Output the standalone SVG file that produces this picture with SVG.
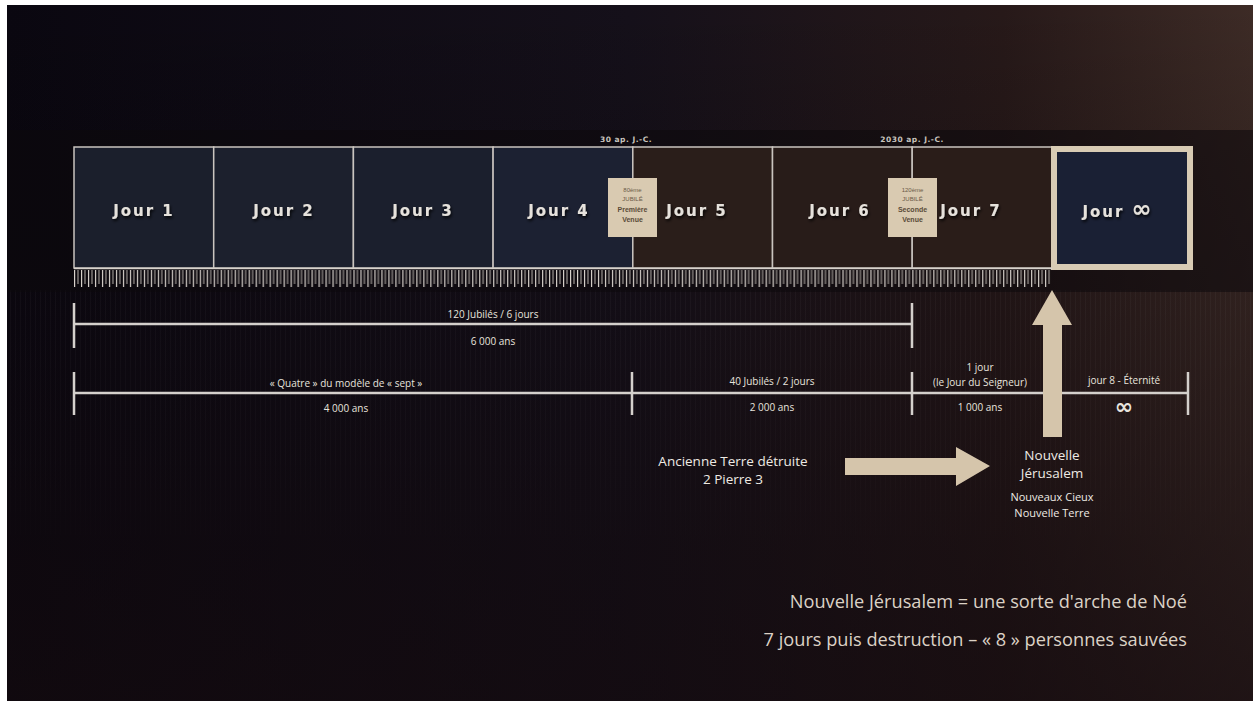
<svg xmlns="http://www.w3.org/2000/svg" width="1253" height="701" viewBox="0 0 1253 701">
<defs>
<linearGradient id="bgH" x1="0" y1="0" x2="1" y2="0">
<stop offset="0" stop-color="#0a0710"/>
<stop offset="0.5" stop-color="#15101a"/>
<stop offset="0.8" stop-color="#271919"/>
<stop offset="1" stop-color="#3d2b26"/>
</linearGradient>
<linearGradient id="bgV" x1="0" y1="0" x2="0" y2="1">
<stop offset="0" stop-color="#000" stop-opacity="0"/>
<stop offset="0.45" stop-color="#0e080c" stop-opacity="0.3"/>
<stop offset="1" stop-color="#130a0e" stop-opacity="0.7"/>
</linearGradient>
<linearGradient id="fadeV" x1="0" y1="0" x2="0" y2="1">
<stop offset="0" stop-color="#fff" stop-opacity="1"/>
<stop offset="0.6" stop-color="#fff" stop-opacity="0.6"/>
<stop offset="1" stop-color="#fff" stop-opacity="0"/>
</linearGradient>
<mask id="fade"><rect x="0" y="290" width="1253" height="280" fill="url(#fadeV)"/></mask>
<pattern id="stripes" x="0" y="0" width="5" height="10" patternUnits="userSpaceOnUse">
<rect x="0" y="0" width="1" height="10" fill="#ffffff" opacity="0.03"/>
</pattern>
<pattern id="ticks" x="74" y="0" width="6.986" height="30" patternUnits="userSpaceOnUse">
<rect x="0" y="0" width="1.2" height="18" fill="#d8d2cc"/>
<rect x="3.49" y="0" width="1" height="14" fill="#b8b2ac"/>
</pattern>
<filter id="sh" x="-20%" y="-50%" width="140%" height="200%">
<feDropShadow dx="1" dy="2" stdDeviation="1.5" flood-color="#000" flood-opacity="0.9"/>
</filter>
<style>
.jour{font-family:"DejaVu Sans",sans-serif;font-weight:bold;font-size:15px;letter-spacing:2px;fill:#e6e2dc;text-anchor:middle}
.lbl{font-family:"Open Sans","Liberation Sans",sans-serif;font-size:10px;fill:#e8e4de;text-anchor:middle}
.big{font-family:"Open Sans","Liberation Sans",sans-serif;font-size:13.5px;fill:#eeeae4;text-anchor:middle}
.mid{font-family:"Open Sans","Liberation Sans",sans-serif;font-size:11px;fill:#eeeae4;text-anchor:middle}
.note{font-family:"Open Sans","Liberation Sans",sans-serif;font-size:18.2px;fill:#dcd2c6;text-anchor:end}
.inf{font-family:"DejaVu Sans",sans-serif;font-size:22px;font-weight:bold;fill:#e8e4de;text-anchor:middle}
.date{font-family:"DejaVu Sans",sans-serif;font-weight:bold;font-size:7.5px;fill:#c8c4be;text-anchor:middle;letter-spacing:0.5px}
.box{font-family:"Liberation Sans",sans-serif;font-size:6px;fill:#6a5a48;text-anchor:middle}
.boxb{font-family:"Liberation Sans",sans-serif;font-weight:bold;font-size:7px;fill:#5a4a38;text-anchor:middle}
.dim{stroke:#d4d0cc;stroke-width:2.5;fill:none}
.cell{stroke:#c9c4bf;stroke-width:1.5}
.beige{fill:#d5c5ab}
</style>
</defs>

<!-- page border / background -->
<rect x="0" y="0" width="1253" height="701" fill="#ffffff"/>
<rect x="7" y="5" width="1246" height="696" fill="url(#bgH)"/>
<rect x="7" y="5" width="1246" height="696" fill="url(#bgV)"/>
<rect x="7" y="290" width="1246" height="280" fill="url(#stripes)" mask="url(#fade)"/>
<rect x="7" y="130" width="1246" height="162" fill="#0c090d" opacity="0.55"/>

<!-- timeline cells -->
<g id="cells">
<g id="jour1"><rect class="cell" x="74" y="147" width="139.7" height="121" fill="#1b1f2c"/><text class="jour" x="144" y="216" filter="url(#sh)">Jour 1</text></g>
<g id="jour2"><rect class="cell" x="213.7" y="147" width="139.7" height="121" fill="#1c202d"/><text class="jour" x="284" y="216" filter="url(#sh)">Jour 2</text></g>
<g id="jour3"><rect class="cell" x="353.4" y="147" width="139.7" height="121" fill="#1b1f2d"/><text class="jour" x="423" y="216" filter="url(#sh)">Jour 3</text></g>
<g id="jour4"><rect class="cell" x="493.1" y="147" width="139.7" height="121" fill="#1c2132"/><text class="jour" x="559" y="216" filter="url(#sh)">Jour 4</text></g>
<g id="jour5"><rect class="cell" x="632.8" y="147" width="139.7" height="121" fill="#2a1e1a"/><text class="jour" x="697" y="216" filter="url(#sh)">Jour 5</text></g>
<g id="jour6"><rect class="cell" x="772.5" y="147" width="139.7" height="121" fill="#281c19"/><text class="jour" x="840" y="216" filter="url(#sh)">Jour 6</text></g>
<g id="jour7"><rect class="cell" x="912.2" y="147" width="139.7" height="121" fill="#2a1d19"/><text class="jour" x="971" y="216" filter="url(#sh)">Jour 7</text></g>
<g id="jourInf"><rect x="1054" y="149" width="136" height="118" fill="#1a2034" stroke="#d8cbb4" stroke-width="6"/><text class="jour" x="1118" y="217" filter="url(#sh)">Jour <tspan style="font-size:24px">∞</tspan></text></g>
</g>

<!-- ruler -->
<g id="ruler">
<rect x="74" y="268" width="978" height="19" fill="url(#ticks)"/>
<line x1="74" y1="268.5" x2="1052" y2="268.5" stroke="#d8d2cc" stroke-width="1.5"/>
</g>

<!-- dates -->
<text class="date" x="626" y="142">30 ap. J.-C.</text>
<text class="date" x="912" y="142">2030 ap. J.-C.</text>

<!-- venue boxes -->
<g id="venue1">
<rect x="608" y="178" width="49" height="59" fill="#d9cab1"/>
<text class="box" x="632.5" y="192">80ème</text>
<text class="box" x="632.5" y="201">JUBILÉ</text>
<text class="boxb" x="632.5" y="212">Première</text>
<text class="boxb" x="632.5" y="222">Venue</text>
</g>
<g id="venue2">
<rect x="888" y="178" width="49" height="59" fill="#d9cab1"/>
<text class="box" x="912.5" y="192">120ème</text>
<text class="box" x="912.5" y="201">JUBILÉ</text>
<text class="boxb" x="912.5" y="212">Seconde</text>
<text class="boxb" x="912.5" y="222">Venue</text>
</g>

<!-- dimension lines and arrows -->
<g id="connectors">
<line class="dim" x1="74" y1="324" x2="912" y2="324"/>
<line class="dim" x1="74" y1="303" x2="74" y2="348"/>
<line class="dim" x1="912" y1="303" x2="912" y2="348"/>
<line class="dim" x1="74" y1="393" x2="1188" y2="393"/>
<line class="dim" x1="74" y1="372" x2="74" y2="415"/>
<line class="dim" x1="632" y1="372" x2="632" y2="415"/>
<line class="dim" x1="912" y1="372" x2="912" y2="415"/>
<line class="dim" x1="1188" y1="372" x2="1188" y2="415"/>
<polygon class="beige" points="1043,437 1062,437 1062,325 1072,325 1052,290 1032,325 1043,325"/>
<polygon class="beige" points="845,458 956,458 956,447 990,466 956,486 956,475 845,475"/>
</g>

<!-- dimension labels -->
<g id="labels">
<text class="lbl" x="493" y="318">120 Jubilés / 6 jours</text>
<text class="lbl" x="493" y="345">6 000 ans</text>
<text class="lbl" x="346" y="387">« Quatre » du modèle de « sept »</text>
<text class="lbl" x="346" y="412">4 000 ans</text>
<text class="lbl" x="772" y="385">40 Jubilés / 2 jours</text>
<text class="lbl" x="772" y="411">2 000 ans</text>
<text class="lbl" x="980" y="371">1 jour</text>
<text class="lbl" x="980" y="386">(le Jour du Seigneur)</text>
<text class="lbl" x="980" y="411">1 000 ans</text>
<text class="lbl" x="1124" y="384">jour 8 - Éternité</text>
<text class="inf" x="1124" y="414">∞</text>
</g>

<g id="ancienne">
<text class="big" x="733" y="466">Ancienne Terre détruite</text>
<text class="big" x="733" y="484">2 Pierre 3</text>
</g>
<g id="nouvelle">
<text class="big" x="1052" y="460">Nouvelle</text>
<text class="big" x="1052" y="478">Jérusalem</text>
<text class="mid" x="1052" y="501">Nouveaux Cieux</text>
<text class="mid" x="1052" y="517">Nouvelle Terre</text>
</g>

<g id="notes">
<text class="note" x="1187" y="608">Nouvelle Jérusalem = une sorte d'arche de Noé</text>
<text class="note" x="1187" y="646">7 jours puis destruction – « 8 » personnes sauvées</text>
</g>
</svg>
